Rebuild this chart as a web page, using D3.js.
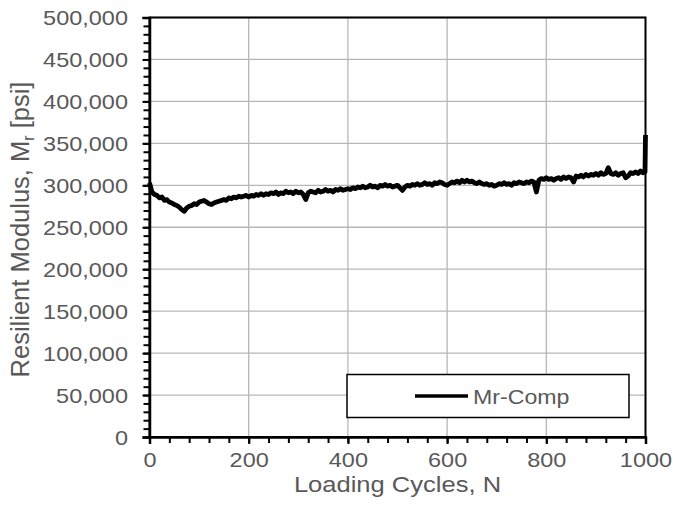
<!DOCTYPE html>
<html><head><meta charset="utf-8">
<script src="https://cdn.jsdelivr.net/npm/d3@7"></script>
<style>body{margin:0;background:#fff}svg{display:block}text{font-family:"Liberation Sans",Arial,sans-serif;fill:#595959}</style>
</head><body><svg id="c" width="673" height="517"></svg>
<script>
const seriesName = "Mr-Comp";
const xTickValues = [0,200,400,600,800,1000];
const yTickValues = [0,50000,100000,150000,200000,250000,300000,350000,400000,450000,500000];
const cycles = [0,5,10,15,20,25,30,35,40,45,50,55,60,65,70,75,80,85,90,95,
100,105,110,115,120,125,130,135,140,145,150,155,160,165,170,175,180,185,190,195,
200,205,210,215,220,225,230,235,240,245,250,255,260,265,270,275,280,285,290,295,
300,305,310,315,320,325,330,335,340,345,350,355,360,365,370,375,380,385,390,395,
400,405,410,415,420,425,430,435,440,445,450,455,460,465,470,475,480,485,490,495,
500,505,510,515,520,525,530,535,540,545,550,555,560,565,570,575,580,585,590,595,
600,605,610,615,620,625,630,635,640,645,650,655,660,665,670,675,680,685,690,695,
700,705,710,715,720,725,730,735,740,745,750,755,760,765,770,775,780,785,790,795,
800,805,810,815,820,825,830,835,840,845,850,855,860,865,870,875,880,885,890,895,
900,905,910,915,920,925,930,935,940,945,950,955,960,965,970,975,980,985,990,995,
999,1000];
const modulusK = [303,292,289,288,285,286,282,283,280,279,277,276,274,271,269,273,275,276,278,277,
280,281,282,280,278,277,279,280,281,282,283,282,285,284,286,285,287,286,287,288,
286,288,287,289,288,290,288,290,289,291,290,292,289,291,290,293,291,292,290,293,
291,292,289,283,291,293,292,291,294,292,293,295,293,294,292,295,294,296,294,295,
296,295,297,296,298,297,299,297,298,300,298,299,297,300,299,301,299,300,298,299,
300,297,294,298,300,299,301,300,302,300,301,303,301,302,300,303,302,304,303,301,
300,302,304,303,305,303,306,304,306,304,305,303,302,304,302,301,302,300,301,299,
300,302,301,303,301,302,300,303,302,304,303,302,304,303,305,304,292,306,308,307,
309,307,308,306,308,309,307,310,308,310,309,304,311,310,312,310,313,311,313,312,
314,312,315,313,314,321,314,313,315,312,314,315,309,311,315,314,316,314,317,315,
316,360];

const svg = d3.select("#c");
const L=149.5, R=645.5, T=17.5, B=437;
const SX = 1.13;
const x = d3.scaleLinear().domain([0,1000]).range([L,R]);
const y = d3.scaleLinear().domain([0,500000]).range([B,T]);

// grid
const g = svg.append("g");
g.selectAll(".gx").data(xTickValues).enter().append("line")
  .attr("x1",d=>x(d)).attr("x2",d=>x(d)).attr("y1",T).attr("y2",B)
  .attr("stroke","#b7b7b7").attr("stroke-width",1.3);
g.selectAll(".gy").data(yTickValues).enter().append("line")
  .attr("y1",d=>y(d)).attr("y2",d=>y(d)).attr("x1",L).attr("x2",R)
  .attr("stroke","#b7b7b7").attr("stroke-width",1.3);

// data line
const data = cycles.map((c,i)=>({c, v: modulusK[i]*1000}));
svg.append("path").datum(data)
  .attr("d", d3.line().x(d=>x(d.c)).y(d=>y(d.v)))
  .attr("fill","none").attr("stroke","#000").attr("stroke-width",4.8).attr("stroke-linejoin","round");

// frame
svg.append("rect").attr("x",L).attr("y",T).attr("width",R-L).attr("height",B-T)
  .attr("fill","none").attr("stroke","#000").attr("stroke-width",2);

// minor ticks
svg.append("g").attr("transform",`translate(${L},0)`)
  .call(d3.axisLeft(y).tickValues(d3.range(0,500001,10000)).tickSize(6).tickFormat(""))
  .call(a=>{a.select(".domain").remove(); a.selectAll("line").attr("stroke","#000").attr("stroke-width",2);});
svg.append("g").attr("transform",`translate(0,${B})`)
  .call(d3.axisBottom(x).tickValues(d3.range(0,1001,40)).tickSize(6).tickFormat(""))
  .call(a=>{a.select(".domain").remove(); a.selectAll("line").attr("stroke","#000").attr("stroke-width",2);});

// major axes
const ya = svg.append("g").attr("transform",`translate(${L},0)`)
  .call(d3.axisLeft(y).tickValues(yTickValues).tickSize(7).tickFormat(d3.format(",")));
ya.select(".domain").attr("stroke","#000").attr("stroke-width",2.5);
ya.selectAll("line").attr("stroke","#000").attr("stroke-width",2);
ya.selectAll("text").attr("font-size",20.8).attr("fill","#595959")
  .attr("x",-21.5/SX).attr("dy","0.35em").attr("transform",`scale(${SX},1)`);

const xa = svg.append("g").attr("transform",`translate(0,${B})`)
  .call(d3.axisBottom(x).tickValues(xTickValues).tickSize(7).tickFormat(d3.format("d")));
xa.select(".domain").attr("stroke","#000").attr("stroke-width",2.5);
xa.selectAll("line").attr("stroke","#000").attr("stroke-width",2);
xa.selectAll("text").attr("font-size",20.8).attr("fill","#595959")
  .attr("y",30).attr("dy",0).attr("x",0).attr("transform",`scale(${SX},1)`);

// axis titles
svg.append("text").attr("transform",`translate(${(L+R)/2},492) scale(${SX},1)`)
  .attr("text-anchor","middle").attr("font-size",22.6).text("Loading Cycles, N");
const yt = svg.append("text").attr("transform",`translate(29,229.5) rotate(-90)`)
  .attr("text-anchor","middle").attr("font-size",25.5);
yt.append("tspan").text("Resilient Modulus, M");
yt.append("tspan").attr("font-size",16).attr("dy",5).text("r");
yt.append("tspan").attr("dy",-5).text(" [psi]");

// legend
const lg = svg.append("g");
lg.append("rect").attr("x",347).attr("y",374.5).attr("width",282).attr("height",43)
  .attr("fill","#fff").attr("stroke","#000").attr("stroke-width",1.5);
lg.append("line").attr("x1",415).attr("x2",468).attr("y1",396).attr("y2",396)
  .attr("stroke","#000").attr("stroke-width",3.5);
lg.append("text").attr("transform",`translate(473,403.5) scale(${SX},1)`)
  .attr("font-size",20.5).text(seriesName);
</script></body></html>
